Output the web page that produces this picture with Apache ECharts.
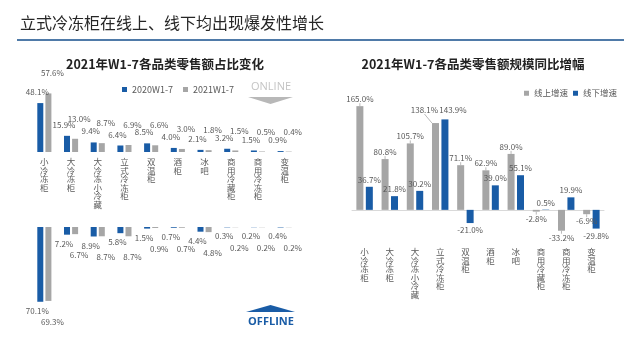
<!DOCTYPE html>
<html>
<head>
<meta charset="utf-8">
<script src="https://cdn.jsdelivr.net/npm/echarts@6/dist/echarts.min.js"></script>
<style>html,body{margin:0;padding:0;background:#fff;}#c{width:640px;height:360px;}</style>
</head>
<body>
<div id="c"></div>
<script>
const categories = ['小冷冻柜','大冷冻柜','大冷冻小冷藏','立式冷冻柜','双温柜','酒柜','冰吧','商用冷藏柜','商用冷冻柜','变温柜'];
const online2020 = [48.1,15.9,9.4,6.4,8.5,4.0,2.1,3.2,1.5,0.9];
const online2021 = [57.6,13.0,8.7,6.9,6.6,3.0,1.8,1.5,0.5,0.4];
const offline2020 = [70.1,7.2,8.9,5.8,1.5,0.7,4.4,0.3,0.2,0.4];
const offline2021 = [69.3,6.7,8.7,8.7,0.9,0.7,4.8,0.2,0.2,0.2];
const onlineGrowth = [165.0,80.8,105.7,138.1,71.1,62.9,89.0,-2.8,-33.2,-6.9];
const offlineGrowth = [36.7,21.8,30.2,143.9,-21.0,39.0,55.1,0.5,19.9,-29.8];
const legendLeft = ['2020W1-7','2021W1-7'];
const legendRight = ['线上增速','线下增速'];

const BLUE = '#195ca6', GRAY = '#a6a6a6', FONT = 'Noto Sans CJK SC';
const pct = p => p.value.toFixed(1) + '%';
const vert = v => v.split('').join('\n');
const lbl = (pos, dist, dx) => ({show:true, position:pos, distance:dist, offset:[dx,0], formatter:pct, fontSize:8, color:'#595959', fontFamily:FONT});
const signed = (arr, dist) => arr.map(v => ({value:v, label:{position: v < 0 ? 'bottom' : 'top', distance:dist}}));
// categories where both growth labels would collide (same side, similar height)
const close = categories.map((_, i) => onlineGrowth[i] > 0 && offlineGrowth[i] > 0 && Math.abs(onlineGrowth[i] - offlineGrowth[i]) < 15);

const chart = echarts.init(document.getElementById('c'));
chart.setOption({
  backgroundColor:'#fff',
  animation:false,
  textStyle:{fontFamily:FONT},
  legend:[
    {data:legendLeft, left:117, top:80, icon:'rect', itemWidth:5, itemHeight:5, itemGap:10,
     textStyle:{fontSize:9, color:'#595959', fontFamily:FONT}},
    {data:legendRight, left:519, top:84, icon:'rect', itemWidth:5, itemHeight:5, itemGap:5,
     textStyle:{fontSize:8.5, color:'#595959', fontFamily:FONT}}
  ],
  grid:[
    {left:31, width:267, top:92, height:60},
    {left:31, width:267, top:227, height:80},
    {left:352, width:252, top:103, height:132}
  ],
  xAxis:[
    {gridIndex:0, type:'category', data:categories, axisLine:{show:false}, axisTick:{show:false},
     axisLabel:{formatter:vert, fontSize:8.5, lineHeight:8.5, color:'#595959', margin:6, interval:0}},
    {gridIndex:1, type:'category', data:categories, axisLine:{show:false}, axisTick:{show:false}, axisLabel:{show:false}},
    {gridIndex:2, type:'category', data:categories, axisLine:{show:false, onZero:false}, axisTick:{show:false},
     axisLabel:{formatter:vert, fontSize:8.5, lineHeight:8.5, color:'#595959', margin:13, interval:0}},
    {gridIndex:2, type:'category', data:categories, position:'bottom', axisLine:{show:true, onZero:true, lineStyle:{color:'#d9d9d9'}}, axisTick:{show:false}, axisLabel:{show:false}}
  ],
  yAxis:[
    {gridIndex:0, type:'value', min:0, max:59, show:false},
    {gridIndex:1, type:'value', min:0, max:75, inverse:true, show:false},
    {gridIndex:2, type:'value', min:-40, max:170, show:false}
  ],
  series:[
    {name:legendLeft[0], type:'bar', xAxisIndex:0, yAxisIndex:0, data:online2020, barWidth:6, barGap:'35%',
     itemStyle:{color:BLUE}, label:lbl('top',7,-3)},
    {name:legendLeft[1], type:'bar', xAxisIndex:0, yAxisIndex:0, data:online2021, barWidth:6, barGap:'35%',
     itemStyle:{color:GRAY}, label:lbl('top',16,4)},
    {name:legendLeft[0], type:'bar', xAxisIndex:1, yAxisIndex:1, data:offline2020, barWidth:6, barGap:'35%',
     itemStyle:{color:BLUE}, label:lbl('bottom',5,-3)},
    {name:legendLeft[1], type:'bar', xAxisIndex:1, yAxisIndex:1, data:offline2021, barWidth:6, barGap:'35%',
     itemStyle:{color:GRAY}, label:lbl('bottom',17,4)},
    {name:legendRight[0], type:'bar', xAxisIndex:2, yAxisIndex:2, data:signed(onlineGrowth,3), barWidth:7, barGap:'35%',
     itemStyle:{color:GRAY}, label:lbl('top',3,0),
     labelLine:{show:true, lineStyle:{color:'#8c8c8c', width:0.6}},
     labelLayout:p => close[p.dataIndex] ? {dx:-11, dy:-6} : {}},
    {name:legendRight[1], type:'bar', xAxisIndex:2, yAxisIndex:2, data:signed(offlineGrowth,3), barWidth:7, barGap:'35%',
     itemStyle:{color:BLUE}, label:lbl('top',3,0),
     labelLayout:p => close[p.dataIndex] ? {dx:8, dy:-2} : {}}
  ],
  graphic:[
    {type:'text', left:20, top:15, style:{text:'立式冷冻柜在线上、线下均出现爆发性增长', font:'16px "Noto Sans CJK SC"', fill:'#262626'}},
    {type:'line', shape:{x1:17, y1:40, x2:624, y2:40}, style:{stroke:'#4f7aa8', lineWidth:2}},
    {type:'text', x:165, y:64, style:{text:'2021年W1-7各品类零售额占比变化', font:'bold 12.5px "Noto Sans CJK SC"', fill:'#222', textAlign:'center', textVerticalAlign:'middle'}},
    {type:'text', x:473, y:64, style:{text:'2021年W1-7各品类零售额规模同比增幅', font:'bold 12.5px "Noto Sans CJK SC"', fill:'#222', textAlign:'center', textVerticalAlign:'middle'}},
    {type:'text', x:271, y:87, style:{text:'ONLINE', font:'11px "Open Sans"', fill:'#c4c4c4', textAlign:'center', textVerticalAlign:'middle'}},
    {type:'polygon', shape:{points:[[248,97],[293,97],[270.5,104]]}, style:{fill:'#b8b8b8'}},
    {type:'polygon', shape:{points:[[246,312],[295,312],[270.5,305]]}, style:{fill:BLUE}},
    {type:'text', x:271, y:322, style:{text:'OFFLINE', font:'bold 11px "Open Sans"', fill:BLUE, textAlign:'center', textVerticalAlign:'middle'}}
  ]
});
</script>
</body>
</html>
